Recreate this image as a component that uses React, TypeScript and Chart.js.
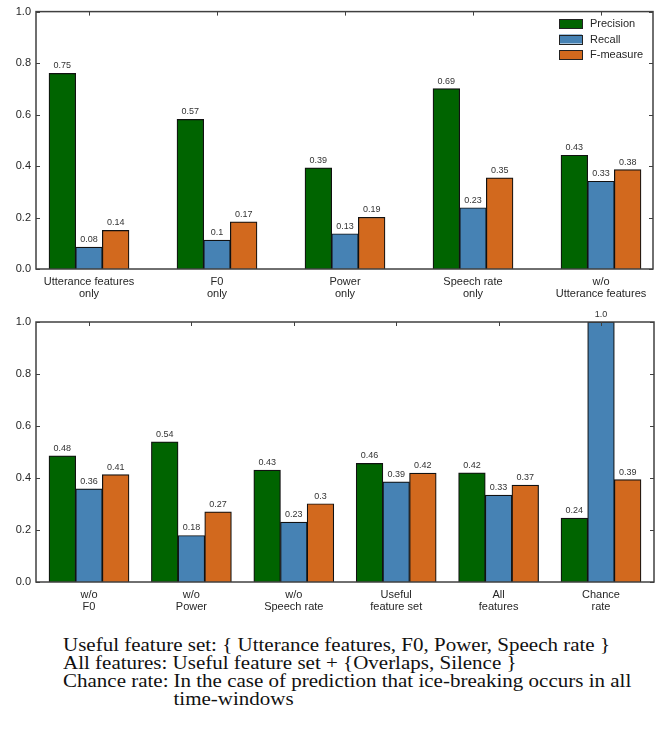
import React, { useEffect, useRef } from "react";
import { Chart, registerables } from "chart.js";

Chart.register(...registerables);

// ---------- data ----------
const SERIES_NAMES = ["Precision", "Recall", "F-measure"];
const SERIES_COLORS = ["#006400", "#4682B4", "#D2691E"];

const TOP_CATEGORIES = [
  ["Utterance features", "only"],
  ["F0", "only"],
  ["Power", "only"],
  ["Speech rate", "only"],
  ["w/o", "Utterance features"],
];
const TOP_PRECISION = [0.76, 0.581, 0.393, 0.701, 0.442];
const TOP_RECALL = [0.085, 0.112, 0.137, 0.238, 0.341];
const TOP_FMEASURE = [0.15, 0.183, 0.201, 0.354, 0.386];
const TOP_PRECISION_LABELS = ["0.75", "0.57", "0.39", "0.69", "0.43"];
const TOP_RECALL_LABELS = ["0.08", "0.1", "0.13", "0.23", "0.33"];
const TOP_FMEASURE_LABELS = ["0.14", "0.17", "0.19", "0.35", "0.38"];

const BOTTOM_CATEGORIES = [
  ["w/o", "F0"],
  ["w/o", "Power"],
  ["w/o", "Speech rate"],
  ["Useful", "feature set"],
  ["All", "features"],
  ["Chance", "rate"],
];
const BOTTOM_PRECISION = [0.485, 0.539, 0.43, 0.456, 0.42, 0.246];
const BOTTOM_RECALL = [0.358, 0.179, 0.23, 0.385, 0.334, 1.0];
const BOTTOM_FMEASURE = [0.413, 0.27, 0.301, 0.419, 0.373, 0.394];
const BOTTOM_PRECISION_LABELS = ["0.48", "0.54", "0.43", "0.46", "0.42", "0.24"];
const BOTTOM_RECALL_LABELS = ["0.36", "0.18", "0.23", "0.39", "0.33", "1.0"];
const BOTTOM_FMEASURE_LABELS = ["0.41", "0.27", "0.3", "0.42", "0.37", "0.39"];

const Y_TICKS = [0, 0.2, 0.4, 0.6, 0.8, 1.0];

const CAPTION_LINE_1 = "Useful feature set: { Utterance features, F0, Power, Speech rate }";
const CAPTION_LINE_2 = "All features: Useful feature set + {Overlaps, Silence }";
const CAPTION_LINE_3_LABEL = "Chance rate:";
const CAPTION_LINE_3_TEXT = "In the case of prediction that ice-breaking occurs in all";
const CAPTION_LINE_4_TEXT = "time-windows";

const SANS = '"Liberation Sans", Arial, Helvetica, sans-serif';
const AXIS_COLOR = "#404040";
const TEXT_COLOR = "#262626";

type Props = {
  categories: string[][];
  values: number[][];
  labels: string[][];
  width: number;
  height: number;
  padTop: number;
  padRight: number;
  axisHeight: number;
  xMin: number;
  xMax: number;
  showLegend: boolean;
  top: number;
};

function BarChart(p: Props) {
  const ref = useRef<HTMLCanvasElement | null>(null);

  useEffect(() => {
    const canvas = ref.current;
    if (!canvas) return;

    const decorPlugin = {
      id: "decor",
      afterDatasetsDraw(chart: any) {
        const ctx = chart.ctx;
        const area = chart.chartArea;
        const xs = chart.scales.x;
        const ys = chart.scales.y;
        ctx.save();
        // value labels
        ctx.font = `9px ${SANS}`;
        ctx.fillStyle = "#333333";
        ctx.textAlign = "center";
        ctx.textBaseline = "bottom";
        chart.data.datasets.forEach((ds: any, di: number) => {
          const meta = chart.getDatasetMeta(di);
          meta.data.forEach((bar: any, i: number) => {
            ctx.fillText(p.labels[di][i], bar.x, bar.y - 3);
          });
        });
        // frame
        ctx.strokeStyle = AXIS_COLOR;
        ctx.lineWidth = 1.5;
        ctx.strokeRect(area.left, area.top, area.right - area.left, area.bottom - area.top);
        // inward ticks
        ctx.lineWidth = 1;
        const tl = 4;
        ctx.beginPath();
        p.categories.forEach((_, i) => {
          const x = Math.round(xs.getPixelForValue(i)) + 0.5;
          ctx.moveTo(x, area.top);
          ctx.lineTo(x, area.top + tl);
        });
        Y_TICKS.forEach((v) => {
          const y = Math.round(ys.getPixelForValue(v)) + 0.5;
          ctx.moveTo(area.left, y);
          ctx.lineTo(area.left + tl, y);
          ctx.moveTo(area.right, y);
          ctx.lineTo(area.right - tl, y);
        });
        ctx.stroke();
        // legend
        if (p.showLegend) {
          const boxX = 559;
          const boxW = 23;
          const boxH = 9;
          const rows = [23.5, 39, 54.5];
          ctx.font = `11px ${SANS}`;
          ctx.textAlign = "left";
          ctx.textBaseline = "middle";
          SERIES_NAMES.forEach((name, i) => {
            const cy = rows[i];
            ctx.fillStyle = SERIES_COLORS[i];
            ctx.fillRect(boxX, cy - boxH / 2, boxW, boxH);
            ctx.strokeStyle = "#222222";
            ctx.lineWidth = 1;
            ctx.strokeRect(boxX + 0.5, Math.round(cy - boxH / 2) + 0.5, boxW, boxH);
            ctx.fillStyle = TEXT_COLOR;
            ctx.fillText(name, 590, cy + 0.5);
          });
        }
        ctx.restore();
      },
    };

    const chart = new Chart(canvas, {
      type: "bar",
      data: {
        datasets: SERIES_NAMES.map((name, si) => ({
          label: name,
          data: p.values[si].map((v, i) => ({ x: i, y: v })),
          backgroundColor: SERIES_COLORS[si],
          borderColor: "#111111",
          borderWidth: 1.2,
          barThickness: 80 / 3,
        })),
      },
      options: {
        responsive: false,
        animation: false,
        devicePixelRatio: 1,
        layout: { padding: { top: p.padTop, right: p.padRight, left: 0, bottom: 0 } },
        plugins: { legend: { display: false }, tooltip: { enabled: false } },
        scales: {
          x: {
            type: "linear",
            min: p.xMin,
            max: p.xMax,
            offset: false,
            grid: { display: false, drawTicks: false },
            border: { display: false },
            afterBuildTicks: (axis: any) => {
              axis.ticks = p.categories.map((_, i) => ({ value: i }));
            },
            afterFit: (scale: any) => {
              scale.height = p.axisHeight;
            },
            ticks: {
              autoSkip: false,
              maxRotation: 0,
              minRotation: 0,
              padding: 7,
              color: TEXT_COLOR,
              font: { family: SANS, size: 11, lineHeight: 1.06 },
              callback: (v: any) => p.categories[Math.round(Number(v))] ?? "",
            },
          },
          y: {
            min: 0,
            max: 1,
            grid: { display: false, drawTicks: false },
            border: { display: false },
            afterBuildTicks: (axis: any) => {
              axis.ticks = Y_TICKS.map((v) => ({ value: v }));
            },
            afterFit: (scale: any) => {
              scale.width = 36;
            },
            ticks: {
              padding: 5,
              color: TEXT_COLOR,
              font: { family: SANS, size: 11 },
              callback: (v: any) => Number(v).toFixed(1),
            },
          },
        },
      } as any,
      plugins: [decorPlugin],
    });
    return () => chart.destroy();
  }, []);

  return (
    <canvas
      ref={ref}
      width={p.width}
      height={p.height}
      style={{ position: "absolute", left: 0, top: p.top, width: p.width, height: p.height }}
    />
  );
}

export default function App() {
  return (
    <div
      style={{
        position: "absolute",
        left: 0,
        top: 0,
        width: 664,
        height: 740,
        background: "#ffffff",
        overflow: "hidden",
      }}
    >
      <BarChart
        categories={TOP_CATEGORIES}
        values={[TOP_PRECISION, TOP_RECALL, TOP_FMEASURE]}
        labels={[TOP_PRECISION_LABELS, TOP_RECALL_LABELS, TOP_FMEASURE_LABELS]}
        width={664}
        height={300}
        top={0}
        padTop={9}
        padRight={11}
        axisHeight={31}
        xMin={-53 / 128}
        xMax={4 + 52 / 128}
        showLegend={true}
      />
      <BarChart
        categories={BOTTOM_CATEGORIES}
        values={[BOTTOM_PRECISION, BOTTOM_RECALL, BOTTOM_FMEASURE]}
        labels={[BOTTOM_PRECISION_LABELS, BOTTOM_RECALL_LABELS, BOTTOM_FMEASURE_LABELS]}
        width={664}
        height={314}
        top={300}
        padTop={22}
        padRight={10}
        axisHeight={32}
        xMin={-53 / 102.4}
        xMax={5 + 53 / 102.4}
        showLegend={false}
      />
      <div
        style={{
          position: "absolute",
          left: 63,
          top: 636,
          fontFamily: '"Liberation Serif", "Times New Roman", serif',
          fontSize: 21,
          lineHeight: "20px",
          color: "#111111",
          whiteSpace: "nowrap",
          transform: "scaleY(0.9)",
          transformOrigin: "0 0",
        }}
      >
        <div>{CAPTION_LINE_1}</div>
        <div>{CAPTION_LINE_2}</div>
        <div style={{ display: "flex" }}>
          <span style={{ marginRight: 5 }}>{CAPTION_LINE_3_LABEL}</span>
          <div>
            <div>{CAPTION_LINE_3_TEXT}</div>
            <div>{CAPTION_LINE_4_TEXT}</div>
          </div>
        </div>
      </div>
    </div>
  );
}
